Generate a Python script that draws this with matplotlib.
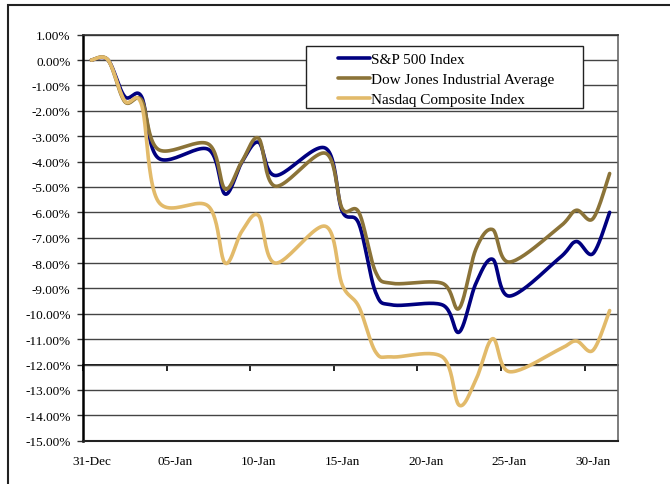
import numpy as np
import matplotlib
matplotlib.use('Agg')
import matplotlib.pyplot as plt
from matplotlib.patches import Rectangle

plt.rcParams['font.family'] = ['Liberation Serif', 'DejaVu Serif']

# days counted from 31-Dec (holidays 1-Jan and 21-Jan carried flat)
days = [0, 1, 2, 3, 4, 7, 8, 9, 10, 11, 14, 15, 16, 17, 18, 21, 22, 23, 24, 25, 28, 29, 30, 31]
spx = [0, 0, -1.44, -1.44, -3.86, -3.52, -5.28, -4.03, -3.24, -4.55, -3.47, -5.95,
       -6.45, -9.15, -9.65, -9.65, -10.72, -8.80, -7.85, -9.30, -7.80, -7.15, -7.63, -6.00]
dow = [0, 0, -1.64, -1.57, -3.52, -3.31, -5.08, -4.00, -3.08, -4.97, -3.67, -5.85,
       -6.00, -8.35, -8.80, -8.80, -9.78, -7.45, -6.68, -7.96, -6.58, -5.92, -6.25, -4.47]
ndq = [0, 0, -1.61, -1.75, -5.57, -5.76, -8.00, -6.75, -6.13, -8.00, -6.55, -8.85,
       -9.72, -11.50, -11.70, -11.70, -13.60, -12.60, -10.98, -12.28, -11.40, -11.07, -11.44, -9.87]
names = ['S&P 500 Index', 'Dow Jones Industrial Average', 'Nasdaq Composite Index']
colors = ['#000080', '#8B7338', '#E2BA6A']
x_labels = ['31-Dec', '05-Jan', '10-Jan', '15-Jan', '20-Jan', '25-Jan', '30-Jan']


def smooth(x, y, n=25):
    # excel style smoothed line (catmull-rom bezier)
    P = np.column_stack([x, y]).astype(float)
    out = []
    t = np.linspace(0, 1, n)[:, None]
    for i in range(len(P) - 1):
        p0 = P[max(i - 1, 0)]
        p1 = P[i]
        p2 = P[i + 1]
        p3 = P[min(i + 2, len(P) - 1)]
        c1 = p1 + (p2 - p0) / 6
        c2 = p2 - (p3 - p1) / 6
        seg = (1 - t)**3 * p1 + 3 * (1 - t)**2 * t * c1 + 3 * (1 - t) * t**2 * c2 + t**3 * p2
        out.append(seg if i == 0 else seg[1:])
    return np.vstack(out)


fig = plt.figure(figsize=(6.7, 4.85), dpi=100)
ax = fig.add_axes([83 / 670, 43.3 / 485, 535 / 670, 406 / 485])

xc = np.array(days) + 0.5
for vals, name, c in zip([spx, dow, ndq], names, colors):
    s = smooth(xc, vals)
    ax.plot(s[:, 0], s[:, 1], color=c, lw=2.6, label=name, zorder=3,
            solid_capstyle='round')

ax.set_xlim(0, 32)
ax.set_ylim(-15, 1)
ax.set_yticks(np.arange(-15, 2, 1))
ax.set_yticklabels(['%.2f%%' % v for v in np.arange(-15, 2, 1)])
ax.set_xticks(np.arange(0, 31, 5) + 0.5)
ax.set_xticklabels(x_labels)
ax.tick_params(axis='x', length=0, pad=10, labelsize=9.5)
ax.tick_params(axis='y', length=4, width=1, pad=5, labelsize=9.5, color='#333333')
ax.grid(axis='y', color='#444444', lw=1.0, zorder=1)

ax.spines['left'].set_linewidth(1.8)
ax.spines['bottom'].set_linewidth(1.5)
ax.spines['bottom'].set_color('#222222')
ax.spines['top'].set_linewidth(1.2)
ax.spines['top'].set_color('#333333')
ax.spines['right'].set_linewidth(1.2)
ax.spines['right'].set_color('#666666')

# category axis crossing at -12%
sec = ax.secondary_xaxis(3 / 16)
sec.set_xticks(np.arange(0, 31, 5))
sec.set_xticklabels([])
sec.tick_params(direction='out', length=4, width=1.2, color='black')
sec.spines['bottom'].set_linewidth(1.3)

# legend frame
ax.add_patch(Rectangle((0.4168, 0.8195), 0.5178, 0.1527, transform=ax.transAxes,
                       facecolor='white', edgecolor='#222222', lw=1.0, zorder=4))
leg = ax.legend(loc='upper left', bbox_to_anchor=(0.476, 0.957), frameon=False,
                borderpad=0, borderaxespad=0, handlelength=2.1, handletextpad=0.05,
                labelspacing=0.42, fontsize=11)
leg.set_zorder(5)

# chart area border
fig.patches.append(Rectangle((8 / 670, -0.1), 2, 1.1 - 6 / 485, transform=fig.transFigure,
                             fill=False, edgecolor='#222222', lw=1.5))

fig.savefig('out.png', dpi=100)
